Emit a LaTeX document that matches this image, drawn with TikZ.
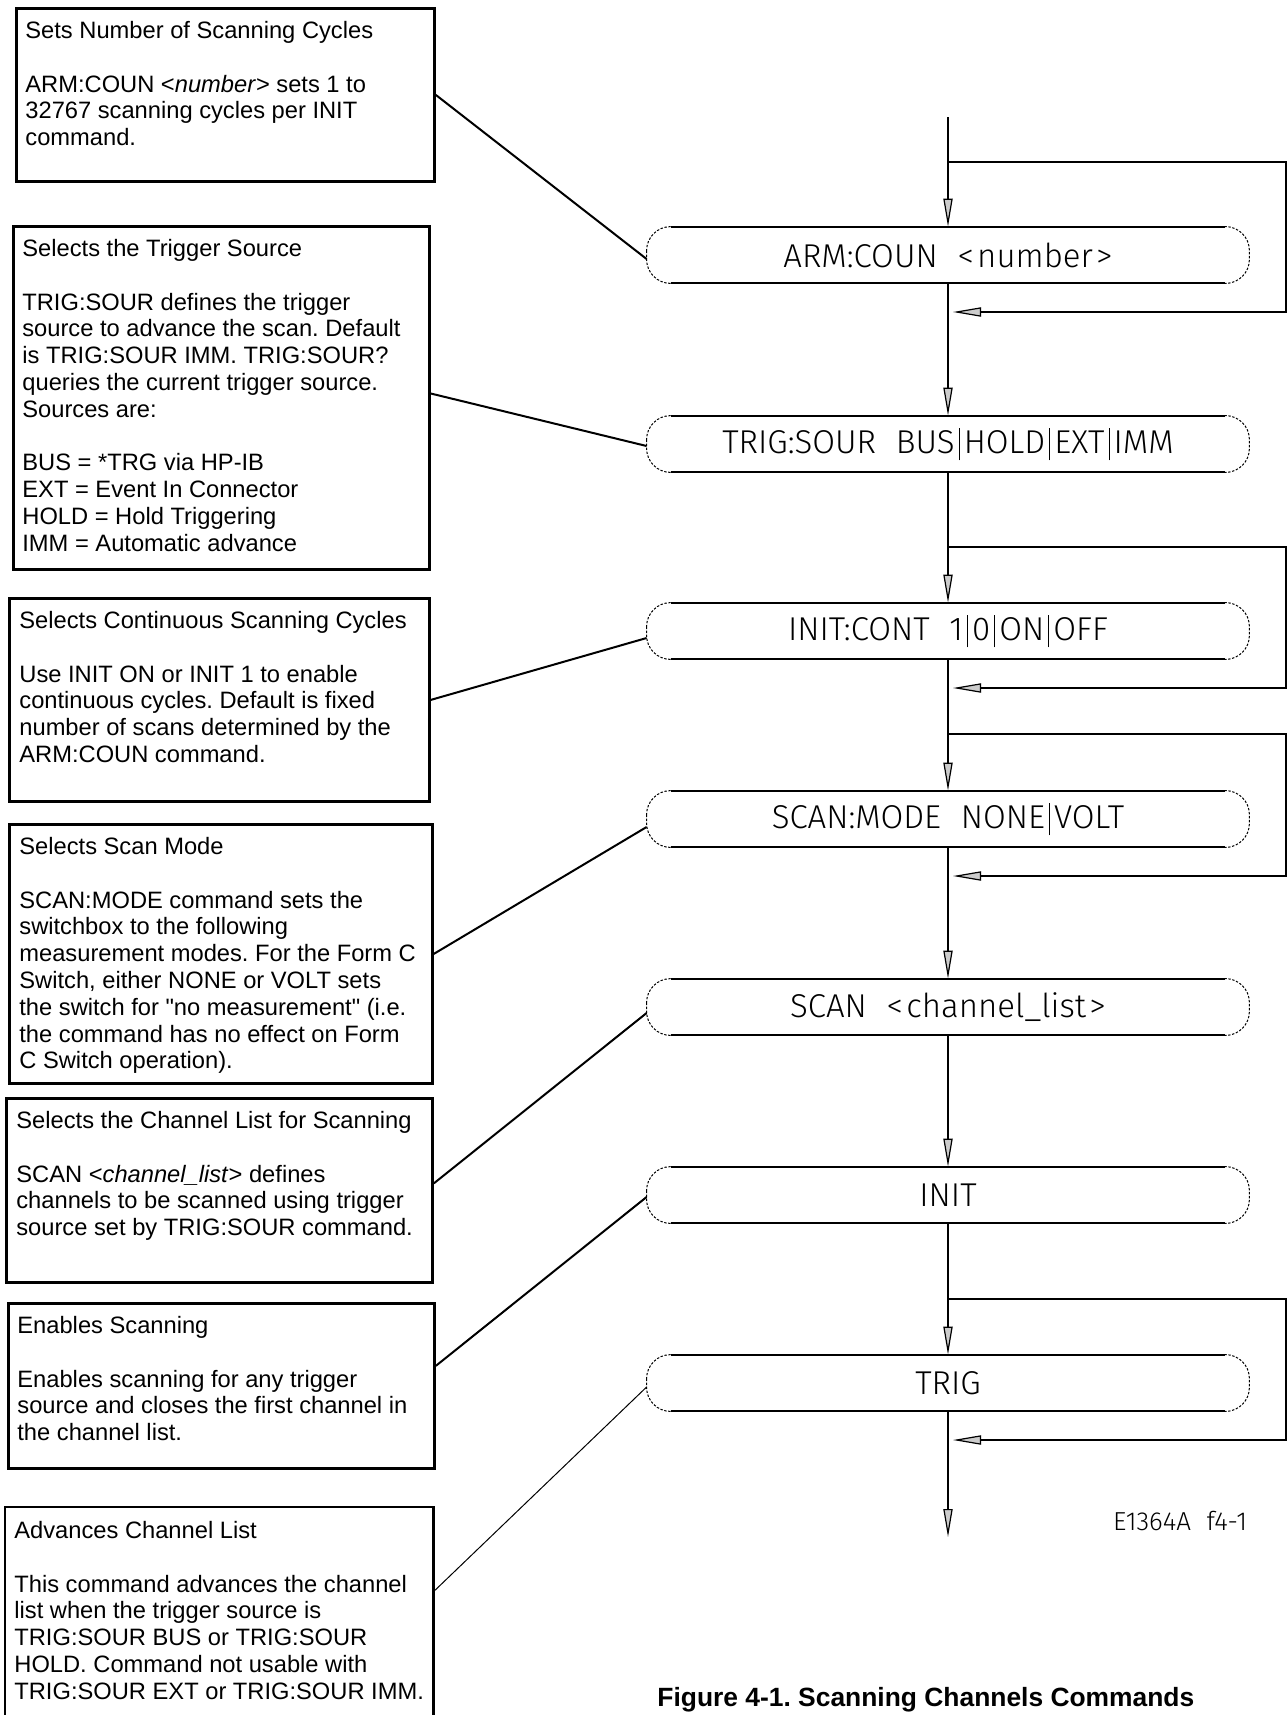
\documentclass[tikz,border=0pt]{standalone}
\usepackage{fontspec}
\setmainfont{Liberation Sans}[Ligatures=TeXOff]
\newfontfamily\cadfont{Fira Sans Light}
\usetikzlibrary{arrows.meta}
\newcommand{\cadbar}{\hspace{0.12em}\rule[-0.22em]{0.035em}{0.99em}\hspace{0.12em}}
\newcommand{\cadgap}{\hspace{0.6em}}
\newcommand{\cadlt}{<\hspace{0.1em}}
\newcommand{\cadgt}{\hspace{0.1em}>}
\frenchspacing
\tikzset{
  lbox/.style={draw, line width=1.4pt, anchor=north west, inner sep=0pt},
  ltxt/.style={anchor=north west, inner sep=0pt, align=left, font=\fontsize{11.85pt}{13.4pt}\selectfont},
  capsule/.style={minimum width=301pt, minimum height=28pt, inner sep=0pt, fill=white, font=\cadfont\fontsize{16.5pt}{18pt}\selectfont},
  capedge/.style={line width=0.5pt, dash pattern=on 1.2pt off 0.8pt, rounded corners=12pt},
  capline/.style={line width=1pt},
  flow/.style={line width=0.9pt},
  tipx/.style={-{Triangle[length=14pt,width=4.6pt,fill=gray!40,line width=0.6pt]}},
  lead/.style={line width=1pt},
}
\begin{document}
\begin{tikzpicture}[x=0.5pt,y=-0.5pt]
\useasboundingbox (0,0) rectangle (1287,1715);

% ---------- command capsules ----------
\node[capsule] (b1) at (948,255) {ARM:COUN\cadgap\cadlt number\cadgt};
\node[capsule] (b2) at (948,444) {TRIG:SOUR\cadgap BUS\cadbar HOLD\cadbar EXT\cadbar IMM};
\node[capsule] (b3) at (948,631) {INIT:CONT\cadgap 1\cadbar 0\cadbar ON\cadbar OFF};
\node[capsule] (b4) at (948,819) {SCAN:MODE\cadgap NONE\cadbar VOLT};
\node[capsule] (b5) at (948,1007) {SCAN\cadgap\cadlt channel\_list\cadgt};
\node[capsule] (b6) at (948,1195) {INIT};
\node[capsule] (b7) at (948,1383) {TRIG};
\foreach \n in {b1,b2,b3,b4,b5,b6,b7}{
  \draw[capedge] (\n.north west) rectangle (\n.south east);
  \draw[capline] ([xshift=12pt]\n.north west) -- ([xshift=-12pt]\n.north east);
  \draw[capline] ([xshift=12pt]\n.south west) -- ([xshift=-12pt]\n.south east);
}

% ---------- main flow ----------
\coordinate (top) at (948,117);
\coordinate (bot) at (948,1537);
\draw[flow,tipx] (top) -- (b1.north);
\draw[flow,tipx] (b1.south) -- (b2.north);
\draw[flow,tipx] (b2.south) -- (b3.north);
\draw[flow,tipx] (b3.south) -- (b4.north);
\draw[flow,tipx] (b4.south) -- (b5.north);
\draw[flow,tipx] (b5.south) -- (b6.north);
\draw[flow,tipx] (b6.south) -- (b7.north);
\draw[flow,tipx] (b7.south) -- (bot);

% ---------- loops ----------
\coordinate (j1) at (948,162);  \coordinate (r1a) at (1286,162);  \coordinate (r1b) at (1286,312);  \coordinate (e1) at (953,312);
\coordinate (j2) at (948,547);  \coordinate (r2a) at (1286,547);  \coordinate (r2b) at (1286,688);  \coordinate (e2) at (953,688);
\coordinate (j3) at (948,734);  \coordinate (r3a) at (1286,734);  \coordinate (r3b) at (1286,876);  \coordinate (e3) at (953,876);
\coordinate (j4) at (948,1299); \coordinate (r4a) at (1286,1299); \coordinate (r4b) at (1286,1440); \coordinate (e4) at (953,1440);
\draw[flow,tipx] (j1) -- (r1a) -- (r1b) -- (e1);
\draw[flow,tipx] (j2) -- (r2a) -- (r2b) -- (e2);
\draw[flow,tipx] (j3) -- (r3a) -- (r3b) -- (e3);
\draw[flow,tipx] (j4) -- (r4a) -- (r4b) -- (e4);

% ---------- left boxes ----------
\node[lbox, minimum width=209pt, minimum height=86.5pt] (n1) at (15,7) {};
\node[ltxt] (t1) at (25,21) {Sets Number of Scanning Cycles\\ ~\\
ARM:COUN <\textit{number}> sets 1 to\\
32767 scanning cycles per INIT\\
command.};

\node[lbox, minimum width=208pt, minimum height=171.5pt] (n2) at (12,225) {};
\node[ltxt] (t2) at (22,239) {Selects the Trigger Source\\ ~\\
TRIG:SOUR defines the trigger\\
source to advance the scan. Default\\
is TRIG:SOUR IMM. TRIG:SOUR?\\
queries the current trigger source.\\
Sources are:\\ ~\\
BUS = *TRG via HP-IB\\
EXT = Event In Connector\\
HOLD = Hold Triggering\\
IMM = Automatic advance};

\node[lbox, minimum width=210pt, minimum height=101.5pt] (n3) at (8,597) {};
\node[ltxt] (t3) at (19,611) {Selects Continuous Scanning Cycles\\ ~\\
Use INIT ON or INIT 1 to enable\\
continuous cycles. Default is fixed\\
number of scans determined by the\\
ARM:COUN command.};

\node[lbox, minimum width=211.5pt, minimum height=129.5pt] (n4) at (8,823) {};
\node[ltxt] (t4) at (19,837) {Selects Scan Mode\\ ~\\
SCAN:MODE command sets the\\
switchbox to the following\\
measurement modes. For the Form C\\
Switch, either NONE or VOLT sets\\
the switch for "no measurement" (i.e.\\
the command has no effect on Form\\
C Switch operation).};

\node[lbox, minimum width=213pt, minimum height=92pt] (n5) at (5,1097) {};
\node[ltxt] (t5) at (16,1111) {Selects the Channel List for Scanning\\ ~\\
SCAN <\textit{channel\_list}> defines\\
channels to be scanned using trigger\\
source set by TRIG:SOUR command.};

\node[lbox, minimum width=213pt, minimum height=82.5pt] (n6) at (7,1302) {};
\node[ltxt] (t6) at (17,1316) {Enables Scanning\\ ~\\
Enables scanning for any trigger\\
source and closes the first channel in\\
the channel list.};

\node[anchor=north west, inner sep=0pt, minimum width=214pt, minimum height=106.5pt] (n7) at (5,1507) {};
\draw[line width=1.4pt] (n7.south west) -- (n7.north west) -- (n7.north east) -- (n7.south east);
\node[ltxt] (t7) at (14,1521) {Advances Channel List\\ ~\\
This command advances the channel\\
list when the trigger source is\\
TRIG:SOUR BUS or TRIG:SOUR\\
HOLD. Command not usable with\\
TRIG:SOUR EXT or TRIG:SOUR IMM.};

% ---------- leader lines ----------
\draw[lead] (n1.east) -- ([yshift=-2pt]b1.west);
\draw[lead] ([yshift=2.2pt]n2.east) -- ([yshift=-1pt]b2.west);
\draw[lead] (n3.east) -- ([yshift=-3.5pt]b3.west);
\draw[lead] (n4.east) -- ([yshift=-4pt]b4.west);
\draw[lead] ([yshift=3.5pt]n5.east) -- ([yshift=-3pt]b5.west);
\draw[lead] ([yshift=10pt]n6.east) -- ([yshift=-1pt]b6.west);
\draw[line width=0.5pt] ([yshift=11.25pt]n7.east) -- ([yshift=-2pt]b7.west);

% ---------- labels ----------
\node[font=\cadfont\fontsize{13pt}{14pt}\selectfont, inner sep=0pt] (lbl) at (1180,1521) {E1364A\hspace{0.6em}f4-1};
\node[anchor=base west, inner sep=0pt, font=\bfseries\fontsize{13.2pt}{15pt}\selectfont] (cap) at (657,1706) {Figure 4-1. Scanning Channels Commands};
\end{tikzpicture}
\end{document}
